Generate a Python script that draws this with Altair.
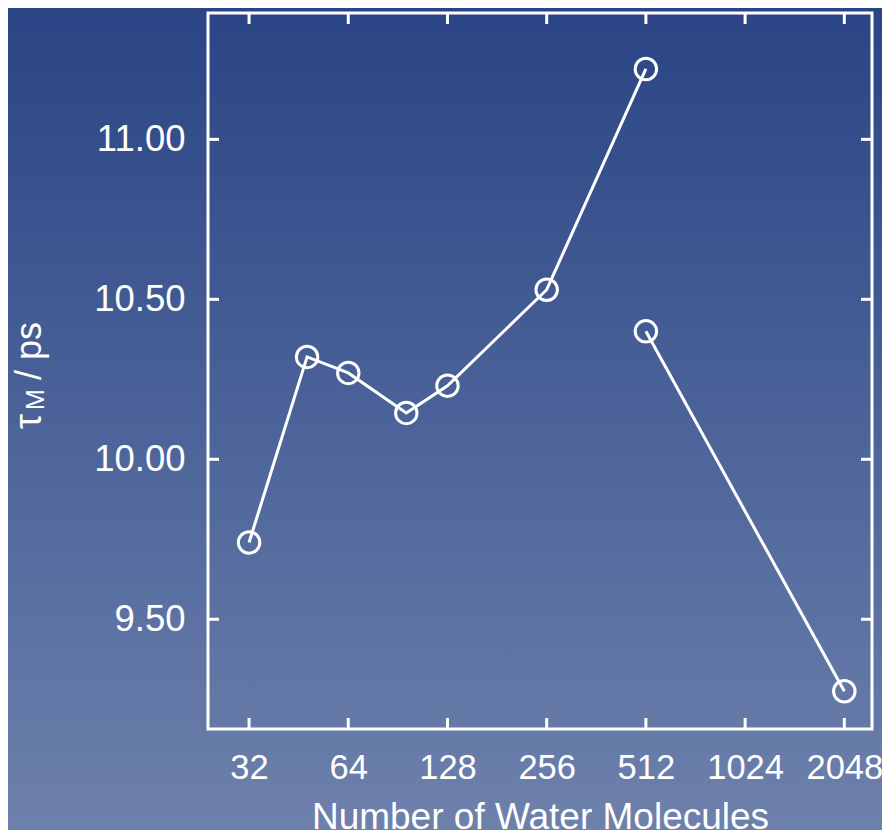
import altair as alt
import pandas as pd

# ---- data ----
n_series1 = [32, 48, 64, 96, 128, 256, 512]
tau_series1 = [9.74, 10.32, 10.27, 10.145, 10.23, 10.53, 11.22]
n_series2 = [512, 2048]
tau_series2 = [10.40, 9.275]
x_ticks = [32, 64, 128, 256, 512, 1024, 2048]
y_ticks = [9.50, 10.00, 10.50, 11.00]

W, H = 664, 716
PAD_L, PAD_T, PAD_R, PAD_B = 200, 5, 10, 101
FONT = "Liberation Sans"
WHITE = "#ffffff"
TICK = 11

df = pd.DataFrame({
    "n": n_series1 + n_series2,
    "tau": tau_series1 + tau_series2,
    "series": ["a"] * len(n_series1) + ["b"] * len(n_series2),
})
xt = pd.DataFrame({"t": x_ticks})
yt = pd.DataFrame({"t": y_ticks})
one = alt.Data(values=[{"k": 1}])

xscale = alt.Scale(type="log", base=2, domain=[24.02, 2485], nice=False)
yscale = alt.Scale(domain=[9.157, 11.395], nice=False, zero=False)

gradient = alt.LinearGradient(
    gradient="linear",
    stops=[alt.GradientStop(color="#2a4485", offset=0),
           alt.GradientStop(color="#4b6399", offset=0.5),
           alt.GradientStop(color="#6e81ac", offset=1)],
    x1=0, x2=0, y1=0, y2=1,
)

x_axis = alt.Axis(values=x_ticks, format="d", ticks=False, tickSize=0, domain=False, grid=False,
                  labelFont=FONT, labelFontSize=34.5, labelColor=WHITE, labelPadding=22,
                  labelFlush=False, labelOverlap=False, zindex=2,
                  title="Number of Water Molecules", titleFont=FONT, titleFontSize=37,
                  titleFontWeight="normal", titleColor=WHITE,
                  titleBaseline="alphabetic", titleY=99)
y_axis = alt.Axis(values=y_ticks, format=".2f", ticks=False, tickSize=0, domain=False, grid=False,
                  labelFont=FONT, labelFontSize=36.5, labelColor=WHITE, labelPadding=23,
                  labelFlush=False, labelOverlap=False, zindex=2, title=None)

bg = alt.Chart(one).mark_rect(fill=gradient, strokeWidth=0).encode(
    x=alt.value(-PAD_L), x2=alt.value(W + PAD_R), y=alt.value(-PAD_T), y2=alt.value(H + PAD_B)
)

base = alt.Chart(df).encode(
    x=alt.X("n:Q", scale=xscale, axis=x_axis),
    y=alt.Y("tau:Q", scale=yscale, axis=y_axis),
    detail="series:N",
)
lines = base.mark_line(color=WHITE, strokeWidth=3)
points = base.mark_point(filled=False, color=WHITE, size=460, strokeWidth=3, opacity=1)

ytick_l = alt.Chart(yt).mark_rule(color=WHITE, strokeWidth=3).encode(
    y=alt.Y("t:Q", scale=yscale, axis=y_axis), x=alt.value(0), x2=alt.value(TICK))
ytick_r = alt.Chart(yt).mark_rule(color=WHITE, strokeWidth=3).encode(
    y=alt.Y("t:Q", scale=yscale, axis=y_axis), x=alt.value(W - TICK), x2=alt.value(W))
xtick_b = alt.Chart(xt).mark_rule(color=WHITE, strokeWidth=3).encode(
    x=alt.X("t:Q", scale=xscale, axis=x_axis), y=alt.value(H - TICK), y2=alt.value(H))
xtick_t = alt.Chart(xt).mark_rule(color=WHITE, strokeWidth=3).encode(
    x=alt.X("t:Q", scale=xscale, axis=x_axis), y=alt.value(0), y2=alt.value(TICK))

frame = alt.Chart(one).mark_rect(filled=False, color=WHITE, strokeWidth=3).encode(
    x=alt.value(0), x2=alt.value(W), y=alt.value(0), y2=alt.value(H))

t_tau = alt.Chart(one).mark_text(text="τ", angle=270, align="left", baseline="alphabetic",
                                 font=FONT, fontSize=38, color=WHITE).encode(
    x=alt.value(-167), y=alt.value(416))
t_M = alt.Chart(one).mark_text(text="M", angle=270, align="left", baseline="alphabetic",
                               font=FONT, fontSize=25, color=WHITE).encode(
    x=alt.value(-164), y=alt.value(397))
t_ps = alt.Chart(one).mark_text(text="/ ps", angle=270, align="left", baseline="alphabetic",
                                font=FONT, fontSize=36, color=WHITE).encode(
    x=alt.value(-167), y=alt.value(367))

chart = alt.layer(
    bg, lines, points, ytick_l, ytick_r, xtick_b, xtick_t, frame, t_tau, t_M, t_ps
).properties(
    width=W, height=H,
    padding={"left": PAD_L, "top": PAD_T, "right": PAD_R, "bottom": PAD_B},
    background="#6e81ac",
    autosize=alt.AutoSizeParams(type="none"),
).configure_view(strokeWidth=0)

chart.save("out.html", embed_options={"renderer": "svg", "actions": False})
